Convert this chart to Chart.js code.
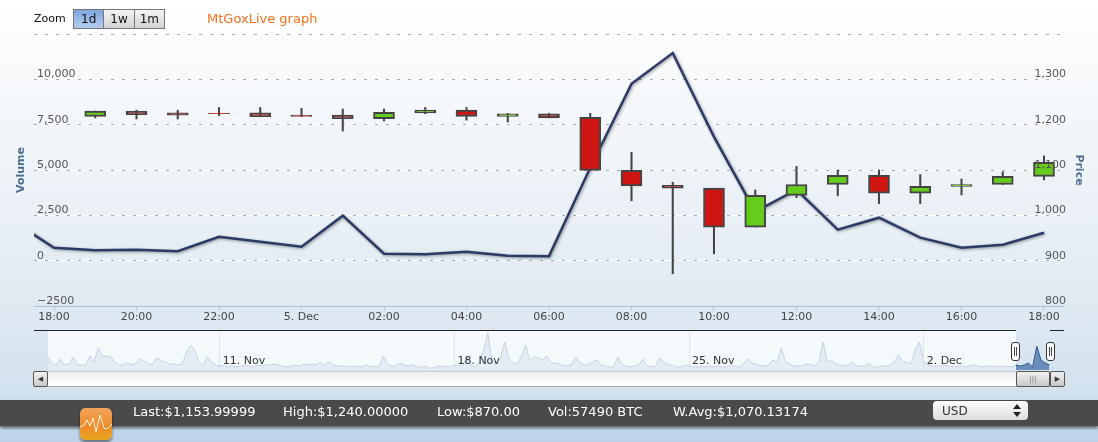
<!DOCTYPE html>
<html>
<head>
<meta charset="utf-8">
<title>MtGoxLive graph</title>
<script src="https://cdn.jsdelivr.net/npm/chart.js@4"></script>
<style>
html, body { margin: 0; padding: 0; }
body {
    width: 1098px; height: 442px; position: relative; overflow: hidden;
    font-family: "DejaVu Sans", sans-serif;
    background: linear-gradient(#fff 0%, #e2ebf3 65%, #d3e2ef 88%, #bcd3e8 100%);
}
canvas { position: absolute; }
#myChart { left: 0; top: 0; }
#navChart { left: 33px; top: 331px; }
.abs { position: absolute; }
#zoomLabel { left: 34px; top: 12px; font-size: 11px; color: #111; }
#buttons { left: 73px; top: 9px; width: 90px; height: 18px; border: 1px solid #777; display: flex; font-size: 12px; color: #111; }
#buttons div { flex: 1; text-align: center; line-height: 18px; background: linear-gradient(#f4f4f4, #d2d2d2); border-left: 1px solid #777; }
#buttons div:first-child { border-left: 0; background: linear-gradient(#7fa5dc, #b4cdf0); }
#title { left: 207px; top: 11px; font-size: 13px; color: #f96f1c; }
#navMask { left: 48px; top: 331px; width: 968px; height: 39px; background: #f4f9fc; }
.navLine { top: 330px; height: 1px; background: #222; }
#scrollTrack { left: 34px; top: 371px; width: 1030px; height: 14px; background: linear-gradient(#eeeeee, #fff); border-bottom: 1px solid #aaa; border-top: 1px solid #ccc; }
.scrollBtn { top: 371px; height: 14px; border: 1px solid #555; border-radius: 2px; background: linear-gradient(#f2f2f2, #c8c8c8); font-size: 7px; line-height: 14px; text-align: center; color: #333; }
.handle { top: 342px; width: 7px; height: 17px; border: 1px solid #333; border-radius: 3px; background: #fff; }
.handle i { position: absolute; top: 4px; height: 9px; width: 1px; background: #444; }
#bar { left: 0; top: 400px; width: 1098px; height: 26px; background: #4a4a4a; box-shadow: 0 2px 3px rgba(0,0,0,.55); }
.stat { top: 404px; font-size: 13px; color: #fff; white-space: nowrap; }
#currency { left: 933px; top: 401px; width: 95px; height: 19px; border-radius: 4px; background: linear-gradient(#fdfdfd, #dcdcdc); font-size: 12px; line-height: 21px; color: #333; }
#currency span { position: absolute; left: 9px; }
#icon { left: 80px; top: 408px; width: 32px; height: 32px; border-radius: 5px; box-shadow: 0 2px 3px rgba(0,0,0,.5); }
</style>
</head>
<body>
<canvas id="myChart" width="1098" height="442"></canvas>
<div class="abs" id="zoomLabel">Zoom</div>
<div class="abs" id="buttons"><div>1d</div><div>1w</div><div>1m</div></div>
<div class="abs" id="title">MtGoxLive graph</div>

<div class="abs" id="navMask"></div>
<canvas id="navChart" width="1031" height="39"></canvas>
<div class="abs navLine" style="left:34px;width:982px"></div>
<div class="abs navLine" style="left:1050px;width:14px"></div>
<div class="abs" id="scrollTrack"></div>
<div class="abs scrollBtn" style="left:33px;width:13px">&#9664;</div>
<div class="abs scrollBtn" style="left:1016px;width:32px;color:#777">|||</div>
<div class="abs scrollBtn" style="left:1050px;width:13px">&#9654;</div>
<div class="abs handle" style="left:1011px"><i style="left:2px"></i><i style="left:4px"></i></div>
<div class="abs handle" style="left:1046px"><i style="left:2px"></i><i style="left:4px"></i></div>

<div class="abs" id="bar"></div>
<div class="abs stat" style="left:133px">Last:$1,153.99999</div>
<div class="abs stat" style="left:283px">High:$1,240.00000</div>
<div class="abs stat" style="left:437px">Low:$870.00</div>
<div class="abs stat" style="left:548px">Vol:57490 BTC</div>
<div class="abs stat" style="left:673px">W.Avg:$1,070.13174</div>
<div class="abs" id="currency"><span>USD</span>
    <svg class="abs" style="left:80px;top:3px" width="8" height="13"><path d="M4 0L8 5H0ZM4 13L0 8H8Z" fill="#222"/></svg>
</div>
<svg class="abs" id="icon" viewBox="0 0 32 32">
    <defs><linearGradient id="ig" x1="0" y1="0" x2="0" y2="1"><stop offset="0" stop-color="#f3a35a"/><stop offset=".6" stop-color="#ee8a2a"/><stop offset="1" stop-color="#e8a51c"/></linearGradient></defs>
    <rect width="32" height="32" rx="5" fill="url(#ig)"/>
    <polyline points="0,19 4,17 7,12 10,18 13,10 16,24 20,7 24,20 27,21 32,16" fill="none" stroke="#fff3dc" stroke-width="1"/>
</svg>

<script>
// main chart, one candle per hour, hour 0 = 18:00
const hours = [1, 2, 3, 4, 5, 6, 7, 8, 9, 10, 11, 12, 13, 14, 15, 16, 17, 18, 19, 20, 21, 22, 23, 24];
const opens = [1218, 1229.5, 1226, 1225, 1226, 1221, 1221, 1213, 1226, 1232, 1218, 1224, 1216, 1099, 1066, 1060, 974, 1044, 1068, 1088, 1049, 1064, 1068, 1086];
const highs = [1230, 1232, 1232, 1238, 1238, 1236, 1234.5, 1234.5, 1238, 1238, 1225, 1225, 1225, 1139, 1073, 1060, 1056, 1108, 1100, 1100, 1090, 1080, 1096, 1131];
const lows = [1215, 1212.5, 1212.5, 1220, 1217.5, 1218, 1186, 1208, 1224, 1210, 1206, 1215, 1099, 1032, 871, 915, 974, 1039, 1043, 1026, 1026, 1045, 1068, 1078];
const closes = [1230, 1222, 1221, 1224, 1217.5, 1218, 1213, 1227, 1232, 1218, 1224, 1215, 1099, 1065, 1060, 974, 1044, 1068, 1088, 1049, 1064, 1068, 1086, 1117];

const volumeHours = [-1, 0, 1, 2, 3, 4, 5, 6, 7, 8, 9, 10, 11, 12, 13, 14, 15, 16, 17, 18, 19, 20, 21, 22, 23, 24];
const volumes = [2200, 715, 580, 605, 525, 1320, 1045, 770, 2480, 385, 360, 495, 275, 250, 5120, 9750, 11450, 6830, 2700, 3910, 1710, 2370, 1270, 715, 880, 1540];

const xTicks = [0, 2, 4, 6, 8, 10, 12, 14, 16, 18, 20, 22, 24];
const xLabels = ['18:00', '20:00', '22:00', '5. Dec', '02:00', '04:00', '06:00', '08:00', '10:00', '12:00', '14:00', '16:00', '18:00'];
const volumeTicks = [-2500, 0, 2500, 5000, 7500, 10000, 12500];
const volumeLabels = ['\u22122500', '0', '2,500', '5,000', '7,500', '10,000', ''];
const priceTicks = [800, 900, 1000, 1100, 1200, 1300, 1400];
const priceLabels = ['800', '900', '1,000', '1,100', '1,200', '1,300', ''];

// navigator: volume every 3 hours from late Oct to the selected day
const navVolume = [
    13, 6, 5, 11, 5, 6, 13, 5, 5, 5, 14, 8, 22, 14, 14, 13, 8, 5, 5, 7,
    5, 7, 11, 9, 6, 6, 12, 9, 8, 6, 6, 5, 6, 17, 25, 20, 8, 5, 13, 8,
    5, 4, 4, 3, 4, 3, 4, 5, 4, 3, 5, 4, 5, 5, 6, 5, 4, 3, 4, 5,
    4, 6, 5, 6, 5, 8, 5, 8, 5, 4, 4, 3, 4, 3, 4, 3, 5, 3, 4, 3,
    14, 6, 4, 4, 7, 5, 4, 5, 3, 3, 4, 2, 2, 4, 3, 4, 3, 5, 4, 4,
    14, 4, 3, 8, 20, 37, 8, 6, 12, 28, 12, 7, 6, 14, 25, 9, 13, 12, 10, 14,
    7, 7, 6, 4, 4, 6, 13, 7, 5, 5, 8, 10, 5, 4, 3, 3, 13, 5, 4, 3,
    4, 5, 11, 4, 3, 4, 12, 8, 5, 5, 3, 3, 5, 4, 3, 3, 4, 3, 4, 3,
    4, 3, 3, 5, 4, 3, 6, 11, 7, 6, 4, 4, 5, 10, 7, 22, 8, 6, 4, 4,
    4, 6, 6, 4, 8, 28, 8, 10, 6, 5, 4, 5, 8, 4, 4, 4, 7, 3, 3, 4,
    4, 5, 8, 15, 8, 8, 6, 20, 28, 9, 5, 4, 4, 4, 5, 4, 3, 4, 4, 3,
    4, 5, 4, 3, 4, 4, 3, 4, 3, 4, 3, 5, 4, 5, 7, 3, 24, 10, 7, 5
];
const navSelectedFrom = 231;
const navTicks = [41, 97, 153, 209];
const navLabels = ['11. Nov', '18. Nov', '25. Nov', '2. Dec'];

const lineShadow = {
    id: 'lineShadow',
    beforeDatasetDraw(chart, args) {
        if (args.meta.type !== 'line') return;
        chart.ctx.save();
        chart.ctx.shadowColor = 'rgba(0, 0, 0, 0.4)';
        chart.ctx.shadowBlur = 3;
        chart.ctx.shadowOffsetX = 1;
        chart.ctx.shadowOffsetY = 1;
    },
    afterDatasetDraw(chart, args) {
        if (args.meta.type === 'line') chart.ctx.restore();
    }
};

const candleColors = hours.map((h, i) => closes[i] >= opens[i] ? '#66cc1c' : '#cf1512');

new Chart(document.getElementById('myChart').getContext('2d'), {
    data: {
        datasets: [
            {
                type: 'bar',
                label: 'Price',
                data: hours.map((h, i) => ({ x: h, y: [opens[i], closes[i]] })),
                yAxisID: 'price',
                backgroundColor: candleColors,
                borderColor: '#444',
                borderWidth: 2,
                borderSkipped: false,
                barThickness: 21,
                grouped: false,
                order: 1
            },
            {
                type: 'bar',
                label: 'Range',
                data: hours.map((h, i) => ({ x: h, y: [lows[i], highs[i]] })),
                yAxisID: 'price',
                backgroundColor: '#444',
                borderWidth: 0,
                barThickness: 1.4,
                grouped: false,
                order: 2
            },
            {
                type: 'line',
                label: 'Volume',
                data: volumeHours.map((h, i) => ({ x: h, y: volumes[i] })),
                yAxisID: 'volume',
                borderColor: '#2b3a67',
                borderWidth: 2.5,
                pointRadius: 0,
                tension: 0,
                order: 3
            }
        ]
    },
    options: {
        responsive: false,
        animation: false,
        layout: { padding: { top: 34, bottom: 106 } },
        plugins: { legend: { display: false }, tooltip: { enabled: false } },
        scales: {
            x: {
                type: 'linear',
                offset: false,
                min: -0.485,
                max: 24.485,
                afterBuildTicks: s => { s.ticks = xTicks.map(v => ({ value: v })); },
                afterFit: s => { s.height = 30; },
                border: { color: '#a9c0da' },
                grid: { offset: false, drawOnChartArea: false, tickLength: 5, color: '#b7c9de' },
                ticks: {
                    autoSkip: false,
                    maxRotation: 0,
                    padding: 0,
                    color: '#444',
                    font: { family: 'DejaVu Sans', size: 11 },
                    callback: (v, i) => xLabels[i]
                }
            },
            volume: {
                position: 'left',
                min: -2500,
                max: 12500,
                afterBuildTicks: s => { s.ticks = volumeTicks.map(v => ({ value: v })); },
                afterFit: s => { s.width = 34; },
                border: { display: false },
                grid: { color: '#fff', drawTicks: false, z: -2 },
                title: {
                    display: true,
                    text: 'Volume',
                    color: '#4d6d8f',
                    padding: { top: 15, bottom: 0 },
                    font: { family: 'DejaVu Sans', size: 11, weight: 'bold' }
                },
                ticks: {
                    mirror: true,
                    padding: 3,
                    labelOffset: -5,
                    z: 1,
                    color: '#555',
                    font: { family: 'DejaVu Sans', size: 11 },
                    callback: (v, i) => volumeLabels[i]
                }
            },
            price: {
                position: 'right',
                min: 800,
                max: 1400,
                afterBuildTicks: s => { s.ticks = priceTicks.map(v => ({ value: v })); },
                afterFit: s => { s.width = 34; },
                border: { display: false, dash: [3, 8] },
                grid: { color: '#aaa', drawTicks: false },
                title: {
                    display: true,
                    text: 'Price',
                    color: '#4d6d8f',
                    padding: { top: 13, bottom: 0 },
                    font: { family: 'DejaVu Sans', size: 11, weight: 'bold' }
                },
                ticks: {
                    mirror: true,
                    padding: 2,
                    labelOffset: -5,
                    z: 1,
                    color: '#555',
                    font: { family: 'DejaVu Sans', size: 11 },
                    callback: (v, i) => priceLabels[i]
                }
            }
        }
    },
    plugins: [lineShadow]
});

new Chart(document.getElementById('navChart').getContext('2d'), {
    type: 'line',
    data: {
        datasets: [
            {
                data: navVolume.map((v, i) => ({ x: i, y: i <= navSelectedFrom ? v : null })),
                borderColor: '#c3d2e3',
                backgroundColor: 'rgba(188, 205, 224, 0.28)',
                borderWidth: 1,
                pointRadius: 0,
                fill: 'origin'
            },
            {
                data: navVolume.map((v, i) => ({ x: i, y: i >= navSelectedFrom ? v : null })),
                borderColor: '#2f5a92',
                backgroundColor: 'rgba(60, 105, 165, 0.7)',
                borderWidth: 1,
                pointRadius: 0,
                fill: 'origin'
            }
        ]
    },
    options: {
        responsive: false,
        animation: false,
        plugins: { legend: { display: false }, tooltip: { enabled: false } },
        scales: {
            x: {
                type: 'linear',
                min: -3.58,
                max: 242.5,
                afterBuildTicks: s => { s.ticks = navTicks.map(v => ({ value: v })); },
                afterFit: s => { s.height = 0; },
                border: { display: false },
                grid: { color: '#dfe6ec', drawTicks: false },
                ticks: {
                    mirror: true,
                    autoSkip: false,
                    maxRotation: 0,
                    align: 'start',
                    labelOffset: 3,
                    padding: 2,
                    z: 1,
                    color: '#333',
                    font: { family: 'DejaVu Sans', size: 11 },
                    callback: (v, i) => navLabels[i]
                }
            },
            y: { display: false, min: 0, max: 39 }
        }
    }
});
</script>
</body>
</html>
